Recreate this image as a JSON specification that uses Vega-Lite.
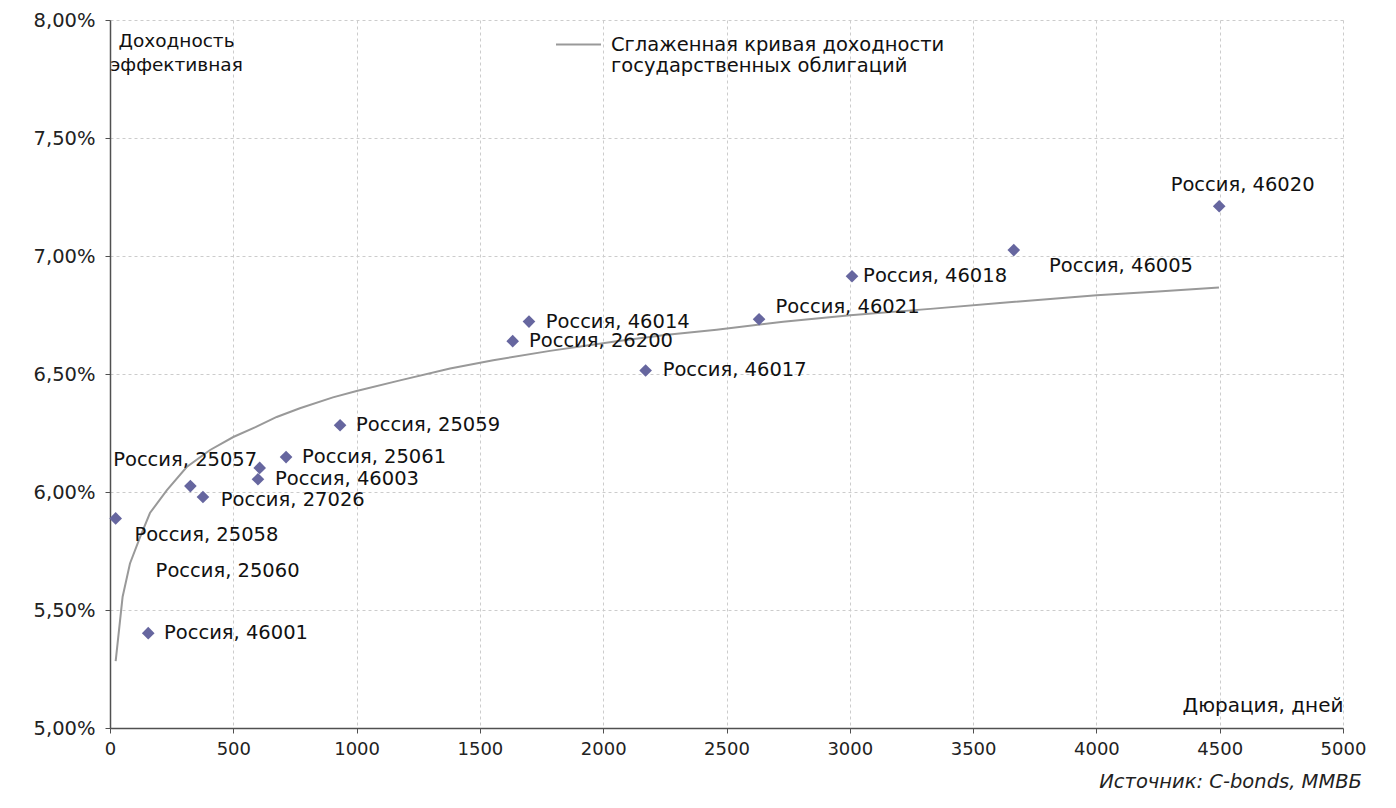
{
  "$schema": "https://vega.github.io/schema/vega-lite/v6.json",
  "width": 1233,
  "height": 708,
  "autosize": {"type": "none"},
  "padding": {"left": 110, "top": 20, "right": 53, "bottom": 80},
  "background": "white",
  "config": {
    "font": "DejaVu Sans",
    "view": {"stroke": null},
    "axis": {
      "gridColor": "#cccccc",
      "gridDash": [3, 3],
      "gridWidth": 1,
      "domainColor": "#505050",
      "domainWidth": 1.5,
      "tickColor": "#505050",
      "tickSize": 5,
      "labelFont": "DejaVu Sans",
      "labelFontSize": 18,
      "labelColor": "#222222",
      "titleFont": "DejaVu Sans",
      "titleFontSize": 18.5,
      "titleFontWeight": "normal",
      "titleColor": "#111111"
    }
  },
  "title": {
    "text": "Источник: C-bonds, ММВБ",
    "orient": "bottom",
    "anchor": "end",
    "frame": "group",
    "fontStyle": "italic",
    "fontWeight": "normal",
    "font": "DejaVu Sans",
    "fontSize": 19.5,
    "color": "#222222",
    "offset": 15,
    "dx": 19
  },
  "datasets": {
    "curve": [
      {"d": 23, "y": 5.283},
      {"d": 51, "y": 5.555},
      {"d": 81, "y": 5.697},
      {"d": 122, "y": 5.809},
      {"d": 162, "y": 5.911},
      {"d": 230, "y": 6.007},
      {"d": 311, "y": 6.106},
      {"d": 406, "y": 6.178},
      {"d": 500, "y": 6.233},
      {"d": 590, "y": 6.275},
      {"d": 676, "y": 6.318},
      {"d": 770, "y": 6.355},
      {"d": 904, "y": 6.401},
      {"d": 1000, "y": 6.428},
      {"d": 1176, "y": 6.473},
      {"d": 1379, "y": 6.523},
      {"d": 1554, "y": 6.558},
      {"d": 1784, "y": 6.598},
      {"d": 2055, "y": 6.639},
      {"d": 2250, "y": 6.665},
      {"d": 2460, "y": 6.688},
      {"d": 2730, "y": 6.721},
      {"d": 3001, "y": 6.749},
      {"d": 3339, "y": 6.777},
      {"d": 3609, "y": 6.801},
      {"d": 4001, "y": 6.834},
      {"d": 4250, "y": 6.850},
      {"d": 4497, "y": 6.867}
    ],
    "bonds": [
      {"bond": "Россия, 25058", "d": 23, "y": 5.888},
      {"bond": "Россия, 46001", "d": 155, "y": 5.402},
      {"bond": "Россия, 25057", "d": 326, "y": 6.025},
      {"bond": "Россия, 27026", "d": 377, "y": 5.979},
      {"bond": "Россия, 46003", "d": 600, "y": 6.054},
      {"bond": "Россия, 25060", "d": 607, "y": 6.102},
      {"bond": "Россия, 25061", "d": 714, "y": 6.148},
      {"bond": "Россия, 25059", "d": 933, "y": 6.283},
      {"bond": "Россия, 26200", "d": 1633, "y": 6.639},
      {"bond": "Россия, 46014", "d": 1699, "y": 6.722},
      {"bond": "Россия, 46017", "d": 2172, "y": 6.515},
      {"bond": "Россия, 46021", "d": 2632, "y": 6.732},
      {"bond": "Россия, 46018", "d": 3009, "y": 6.914},
      {"bond": "Россия, 46005", "d": 3665, "y": 7.025},
      {"bond": "Россия, 46020", "d": 4498, "y": 7.211}
    ],
    "labels": [
      {"text": "Россия, 46001", "lx": 219, "ly": 5.402},
      {"text": "Россия, 27026", "lx": 449, "ly": 5.965},
      {"text": "Россия, 46003", "lx": 669, "ly": 6.054},
      {"text": "Россия, 25061", "lx": 779, "ly": 6.148},
      {"text": "Россия, 25059", "lx": 998, "ly": 6.283},
      {"text": "Россия, 26200", "lx": 1699, "ly": 6.639},
      {"text": "Россия, 46014", "lx": 1767, "ly": 6.721},
      {"text": "Россия, 46017", "lx": 2241, "ly": 6.515},
      {"text": "Россия, 46021", "lx": 2699, "ly": 6.782},
      {"text": "Россия, 46018", "lx": 3054, "ly": 6.914},
      {"text": "Россия, 46005", "lx": 3808, "ly": 6.957},
      {"text": "Россия, 46020", "lx": 4301, "ly": 7.300},
      {"text": "Россия, 25057", "lx": 13, "ly": 6.134},
      {"text": "Россия, 25058", "lx": 99, "ly": 5.816},
      {"text": "Россия, 25060", "lx": 185, "ly": 5.665}
    ]
  },
  "layer": [
    {
      "data": {"name": "curve"},
      "mark": {"type": "line", "strokeWidth": 2, "interpolate": "linear"},
      "encoding": {
        "x": {
          "field": "d",
          "type": "quantitative",
          "scale": {"domain": [0, 5000], "nice": false, "zero": false},
          "axis": {
            "values": [0, 500, 1000, 1500, 2000, 2500, 3000, 3500, 4000, 4500, 5000],
            "format": "d",
            "grid": true,
            "labelPadding": 7,
            "labelFlush": false,
            "title": "Дюрация, дней",
            "titleFontSize": 20,
            "titleAnchor": "end",
            "titleAlign": "right",
            "titleBaseline": "alphabetic",
            "titleX": 1233,
            "titleY": -17
          }
        },
        "y": {
          "field": "y",
          "type": "quantitative",
          "scale": {"domain": [5, 8], "nice": false, "zero": false},
          "axis": {
            "values": [5, 5.5, 6, 6.5, 7, 7.5, 8],
            "grid": true,
            "labelPadding": 10,
            "labelFontSize": 19.5,
            "labelExpr": "replace(format(datum.value, '.2f'), '.', ',') + '%'",
            "title": ["Доходность", "эффективная"],
            "titleAngle": 0,
            "titleAlign": "center",
            "titleBaseline": "alphabetic",
            "titleX": 66,
            "titleY": 26,
            "titleLineHeight": 24
          }
        },
        "color": {
          "datum": "curve",
          "type": "nominal",
          "scale": {"range": ["#999999"]},
          "legend": {
            "title": null,
            "orient": "none",
            "legendX": 445,
            "legendY": 1,
            "symbolType": "stroke",
            "symbolSize": 2025,
            "symbolStrokeWidth": 2,
            "labelExpr": "['Сглаженная кривая доходности', 'государственных облигаций']",
            "labelFont": "DejaVu Sans",
            "labelFontSize": 19.5,
            "labelLineHeight": 24,
            "labelColor": "#111111",
            "labelLimit": 700,
            "labelOffset": 9,
            "labelBaseline": "middle",
            "padding": 0
          }
        }
      }
    },
    {
      "data": {"name": "bonds"},
      "mark": {"type": "point", "shape": "diamond", "filled": true, "size": 160, "color": "#66669f", "opacity": 1},
      "encoding": {
        "x": {"field": "d", "type": "quantitative"},
        "y": {"field": "y", "type": "quantitative"}
      }
    },
    {
      "data": {"name": "labels"},
      "mark": {"type": "text", "align": "left", "baseline": "middle", "fontSize": 19.5, "color": "#111111", "font": "DejaVu Sans"},
      "encoding": {
        "x": {"field": "lx", "type": "quantitative"},
        "y": {"field": "ly", "type": "quantitative"},
        "text": {"field": "text"}
      }
    }
  ]
}
